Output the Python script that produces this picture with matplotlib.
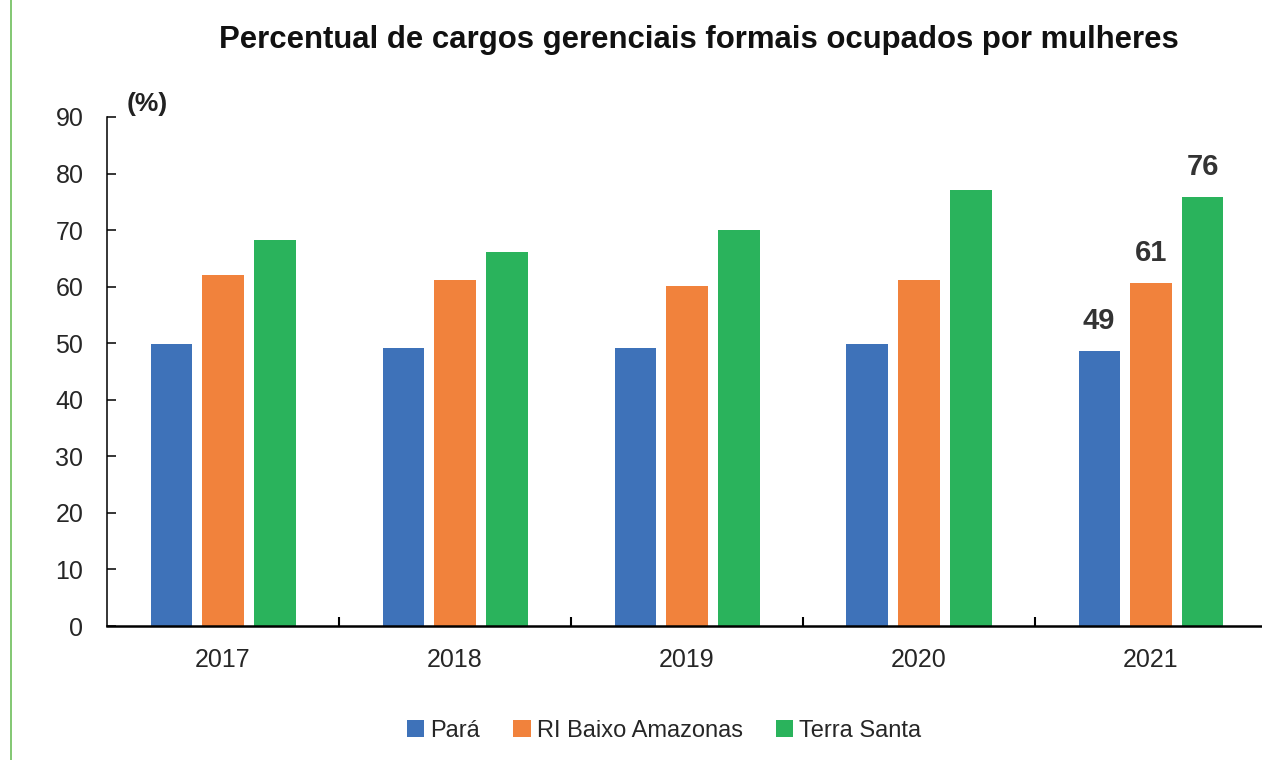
import matplotlib
matplotlib.use('Agg')
import matplotlib.pyplot as plt
from matplotlib.lines import Line2D
import numpy as np

# dados
anos = ['2017', '2018', '2019', '2020', '2021']
para = [49.8, 49.2, 49.2, 49.8, 48.6]
baixo_amazonas = [62.0, 61.2, 60.1, 61.2, 60.6]
terra_santa = [68.2, 66.1, 70.0, 77.1, 75.9]
series_nomes = ['Pará', 'RI Baixo Amazonas', 'Terra Santa']
rotulos_2021 = ['49', '61', '76']

cores = ['#3E72B9', '#F1823C', '#2AB35C']
plt.rcParams['font.family'] = ['Liberation Sans', 'DejaVu Sans']
texto_cor = '#262626'

fig = plt.figure(figsize=(12.62, 7.6), dpi=100)
ax = fig.add_axes([107 / 1262, 134 / 760, 1160 / 1262, 509 / 760])

x = np.arange(len(anos))
largura = 0.177
desloc = 0.224
barras = []
for i, (vals, cor, nome) in enumerate(zip([para, baixo_amazonas, terra_santa], cores, series_nomes)):
    b = ax.bar(x + (i - 1) * desloc, vals, largura, color=cor, label=nome, zorder=2)
    barras.append(b)

# rótulos apenas em 2021
for i, b in enumerate(barras):
    r = b[-1]
    ax.annotate(rotulos_2021[i], (r.get_x() + r.get_width() / 2, r.get_height()),
                xytext=(0, 16), textcoords='offset points', ha='center', va='baseline',
                fontsize=21, fontweight='bold', color='#333333')

ax.set_xlim(-0.5, 4.5)
ax.set_ylim(0, 90)
ax.set_yticks(range(0, 91, 10))
ax.set_xticks(x)
ax.set_xticklabels(anos)
ax.set_xticks(np.arange(0.5, 4.5, 1), minor=True)

for s in ['top', 'right']:
    ax.spines[s].set_visible(False)
ax.spines['left'].set_linewidth(1.1)
ax.spines['bottom'].set_linewidth(1.8)

ax.tick_params(axis='y', direction='in', length=6.5, width=1.1, pad=17,
               labelsize=18, labelcolor=texto_cor)
ax.tick_params(axis='x', which='major', length=0, pad=16, labelsize=18, labelcolor=texto_cor)
ax.tick_params(axis='x', which='minor', direction='in', length=6.5, width=1.5)

ax.text(0.017, 1.025, '(%)', transform=ax.transAxes, fontsize=19, fontweight='bold',
        color='#222222', va='center', ha='left')

fig.text(699 / 1262, 1 - 40 / 760, 'Percentual de cargos gerenciais formais ocupados por mulheres',
         ha='center', va='center', fontsize=22.4, fontweight='bold', color='#111111')

fig.legend(loc='center', bbox_to_anchor=(664 / 1262, 29 / 760), ncol=3, frameon=False,
           fontsize=17, handlelength=0.75, handleheight=0.75, handletextpad=0.25,
           columnspacing=1.4, labelcolor=texto_cor)

# linha verde na borda esquerda
fig.add_artist(Line2D([11 / 1262, 11 / 1262], [0, 1], color='#6DBE5A', linewidth=1.2))

plt.savefig('out.png', dpi=100)
